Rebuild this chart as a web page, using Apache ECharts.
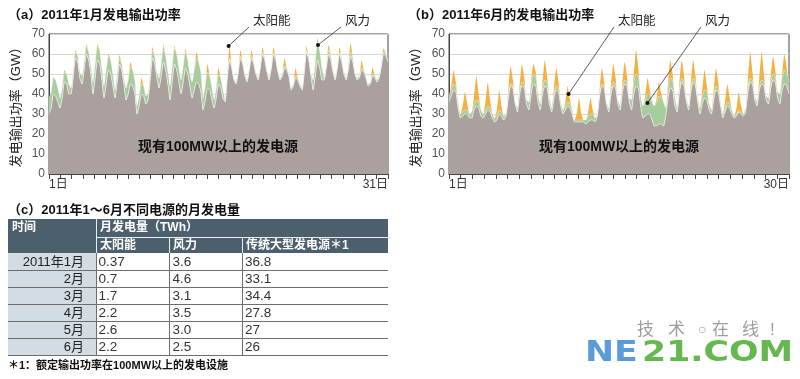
<!DOCTYPE html>
<html><head><meta charset="utf-8">
<script src="https://cdn.jsdelivr.net/npm/echarts@6/dist/echarts.min.js"></script>
<style>html,body{margin:0;padding:0;background:#fff}#c{width:800px;height:379px}</style>
</head><body><div id="c"></div>
<script>
// ---------- DATA ----------
// sample hours within each day (hour of day)
const sampleHours = [2, 7, 12, 17, 22];

// January 2011, GW, 5 samples per day (days 1..31)
const janConv = [
 30,33,40,39,36, 33,38,46,45,40, 40,48,58,56,48, 45,52,60,57,50, 40,48,57,55,47,
 38,45,52,50,44, 38,46,55,52,45, 37,40,45,44,40, 30,34,40,39,35, 37,47,58,55,48,
 43,49,56,52,45, 37,46,55,52,46, 40,46,53,50,44, 38,42,46,45,41, 32,37,43,42,37,
 33,38,45,43,38, 36,48,57,53,47, 45,51,58,55,49, 46,52,58,55,50, 47,53,60,57,51,
 47,53,60,57,51, 47,49,53,52,49, 42,44,48,47,44, 42,51,61,57,49, 42,49,57,53,47,
 47,53,60,57,51, 47,53,60,56,50, 47,52,59,56,50, 47,48,52,51,48, 44,45,49,48,46,
 48,54,60,59,56
];
const janWind = [
 8,8,8,8,7, 5,5,5,5,5, 3,3,3,3,3, 4,4,4,4,4, 6,7,7,7,6,
 6,7,7,7,6, 4,4,3,3,3, 6,7,9,8,7, 4,5,5,5,4, 3,4,4,4,3,
 5,6,8,7,6, 7,8,8,8,7, 7,8,8,7,6, 8,10,12,11,10, 6,7,8,7,6,
 4,5,5,5,4, 1,1,1,1,1, 1,1,1,1,1, 1,1,1,1,1, 1,1,1,1,1,
 1,1,1,1,1, 1,1,1,1,1, 1,1,1,1,1, 1,1,1,1,1, 5,7,9,8,6,
 1,2,2,2,1, 1,1,1,1,1, 1,2,2,2,1, 1,1,1,1,1, 1,1,1,1,1,
 1,1,1,1,1
];
const janSolar = [
 0,0,0.5,0,0, 0,0,1,0,0, 0,0,1,0,0, 0,0,1,0,0, 0,0,1,0,0,
 0,0,1,0,0, 0,0,1.5,0,0, 0,0,2,0,0, 0,0,3,0,0, 0,0,1.5,0,0,
 0,0,1,0,0, 0,0,1,0,0, 0,0,1.5,0,0, 0,0,3,0,0, 0,0,4,0,0,
 0,0,3,0,0, 0,0,6,0,0, 0,0,3,0,0, 0,0,3,0,0, 0,0,2.5,0,0,
 0,0,2.5,0,0, 0,0,4,0,0, 0,0,4,0,0, 0,0,2,0,0, 0,0,2,0,0,
 0,0,2.5,0,0, 0,0,2.5,0,0, 0,0,4.5,0,0, 0,0,4,0,0, 0,0,3.5,0,0,
 0,0,2,0,0
];

// June 2011, GW, 5 samples per day (days 1..30)
const junConv = [
 36,39,42,41,33, 28,29,30,30,28, 28,32,34,33,29, 28,30,32,31,28, 26,27,30,29,27,
 29,38,44,43,35, 31,40,44,43,35, 32,40,45,44,36, 32,40,44,43,35, 31,38,42,41,34,
 30,32,34,33,30, 26,26,26,26,26, 25,26,27,27,26, 29,39,44,43,35, 31,40,44,43,35,
 32,41,45,44,36, 32,40,44,43,34, 28,29,30,30,27, 24,24,25,25,24, 29,38,43,42,34,
 31,41,46,44,36, 32,41,46,44,36, 30,35,38,37,32, 30,37,42,41,34, 28,31,34,33,30,
 28,29,31,30,29, 31,41,46,45,37, 34,42,45,44,37, 35,43,47,46,38, 35,42,45,44,40
];
const junWind = [
 3,3,3,3,3, 2,2,2,2,2, 3,3,3,3,3, 2,2,2,2,2, 2,2,2,2,2,
 1,1,1,1,1, 2,2,2,2,2, 4,5,5,5,4, 3,3,3,3,3, 2,2,2,2,2,
 2,2,2,2,2, 1,1,1,1,1, 2,3,3,3,2, 1,1,1,1,1, 2,2,2,2,2,
 2,2,2,2,2, 5,6,6,6,5, 6,8,10,10,9, 10,12,14,13,12, 4,5,5,5,4,
 2,2,2,2,2, 2,2,2,2,2, 3,4,4,4,3, 2,2,2,2,2, 2,2,2,2,2,
 1,1,1,1,1, 2,2,2,2,2, 2,2,2,2,2, 3,3,3,3,3, 5,6,7,7,6
];
const junSolar = [
 0,2,7,2,0, 0,3,9,3,0, 0,4,12,4,0, 0,4,12,4,0, 0,3,10,3,0,
 0,3,9,3,0, 0,3,9,3,0, 0,2,5,2,0, 0,3,10,3,0, 0,3,9,3,0,
 0,2,8,2,0, 0,3,11,3,0, 0,2,8,2,0, 0,2,8,2,0, 0,3,9,3,0,
 0,3,9,3,0, 0,4,12,4,0, 0,2,8,2,0, 0,2,7,2,0, 0,3,9,3,0,
 0,3,9,3,0, 0,3,9,3,0, 0,3,10,3,0, 0,3,9,3,0, 0,3,9,3,0,
 0,3,9,3,0, 0,4,13,4,0, 0,4,14,4,0, 0,3,9,3,0, 0,2,8,2,0
];

const yTicks = [0, 10, 20, 30, 40, 50, 60, 70];

// Table (c): monthly generation, TWh
const tableMonths = ['2011年1月', '2月', '3月', '4月', '5月', '6月'];
const tableSolar = ['0.37', '0.7', '1.7', '2.2', '2.6', '2.2'];
const tableWind = ['3.6', '4.6', '3.1', '3.5', '3.0', '2.5'];
const tableConv = ['36.8', '33.1', '34.4', '27.8', '27', '26'];

// ---------- CHART ----------
const FF = "'Liberation Sans', 'Noto Sans CJK SC', sans-serif";
const C_CONV = '#aaa19f', C_WIND = '#a8cd9d', C_SOLAR = '#f5b13f';
const PER = sampleHours.length;

function hourCats(vals) {
  return vals.map((v, i) => String(Math.floor(i / PER) * 24 + sampleHours[i % PER]));
}

const chart = echarts.init(document.getElementById('c'), null, {renderer: 'canvas'});

function tickAxis(grid, maxTick, lastLabel) {
  return {
    gridIndex: grid, type: 'value', min: 0, max: maxTick, interval: 1, position: 'bottom',
    axisLine: {show: true, lineStyle: {color: '#444', width: 1}},
    axisTick: {show: true, length: 5, lineStyle: {color: '#444'}},
    splitLine: {show: false},
    axisLabel: {
      show: true, margin: 5, fontSize: 12, color: '#333', fontFamily: FF,
      showMinLabel: true, showMaxLabel: true, alignMinLabel: 'left', alignMaxLabel: 'right',
      formatter: v => v === 0 ? '1日' : (v === maxTick ? lastLabel : '')
    }
  };
}
function dataAxis(grid, vals) {
  return {gridIndex: grid, type: 'category', boundaryGap: false, data: hourCats(vals), show: false};
}
function yAxis(grid) {
  return {
    gridIndex: grid, type: 'value', min: yTicks[0], max: yTicks[yTicks.length - 1], interval: 10,
    name: '发电输出功率（GW）', nameLocation: 'middle', nameGap: 26, nameRotate: 90,
    nameTextStyle: {fontSize: 13, color: '#222', fontFamily: FF},
    axisLine: {show: true, lineStyle: {color: '#444'}},
    axisTick: {show: false},
    axisLabel: {fontSize: 12, color: '#555', margin: 4, fontFamily: FF},
    splitLine: {show: true, lineStyle: {color: '#d6d6d6', width: 1}}
  };
}
function areaSeries(name, vals, color, xi, yi, stack, line) {
  return {
    name, type: 'line', data: vals, xAxisIndex: xi, yAxisIndex: yi, stack,
    showSymbol: false, symbol: 'none', smooth: 0.15,
    lineStyle: line || {width: 0},
    areaStyle: {color, opacity: 1}, itemStyle: {color}, z: 2
  };
}

chart.setOption({
  animation: false,
  backgroundColor: '#fff',
  grid: [
    {left: 49, top: 34, width: 339, height: 140, show: true, borderColor: '#444', borderWidth: 1, backgroundColor: '#fff'},
    {left: 449, top: 34, width: 340, height: 140, show: true, borderColor: '#444', borderWidth: 1, backgroundColor: '#fff'}
  ],
  xAxis: [tickAxis(0, 30, '31日'), dataAxis(0, janConv), tickAxis(1, 29, '30日'), dataAxis(1, junConv)],
  yAxis: [yAxis(0), yAxis(1)],
  series: [
    areaSeries('传统', janConv, C_CONV, 1, 0, 'a', {width: 0.8, color: 'rgba(255,255,255,0.7)'}),
    areaSeries('风力', janWind, C_WIND, 1, 0, 'a', {width: 0.6, color: 'rgba(255,255,255,0.5)'}),
    areaSeries('太阳能', janSolar, C_SOLAR, 1, 0, 'a'),
    areaSeries('传统', junConv, C_CONV, 3, 1, 'b', {width: 0.8, color: 'rgba(255,255,255,0.7)'}),
    areaSeries('风力', junWind, C_WIND, 3, 1, 'b', {width: 0.6, color: 'rgba(255,255,255,0.5)'}),
    areaSeries('太阳能', junSolar, C_SOLAR, 3, 1, 'b')
  ]
});

// ---------- GRAPHICS ----------
const g = [];
function txt(x, y, s, o) {
  g.push({type: 'text', x, y, silent: true, z: 20, style: Object.assign({
    text: s, fontSize: 13, fontFamily: FF, fill: '#222', textVerticalAlign: 'middle', textAlign: 'left'
  }, o || {})});
}
function ln(x1, y1, x2, y2, stroke, w) {
  g.push({type: 'line', silent: true, z: 15, shape: {x1, y1, x2, y2}, style: {stroke, lineWidth: w || 1}});
}

// titles
txt(8, 15, '（a）2011年1月发电输出功率', {fontWeight: 'bold', fill: '#111'});
txt(408, 15, '（b）2011年6月的发电输出功率', {fontWeight: 'bold', fill: '#111'});
txt(218, 147, '现有100MW以上的发电源', {fontWeight: 'bold', fontSize: 14, fill: '#111', textAlign: 'center'});
txt(619, 147, '现有100MW以上的发电源', {fontWeight: 'bold', fontSize: 14, fill: '#111', textAlign: 'center'});

// annotations: point = [day index (0-based), sample position within day, value]
const ann = [
  {xa: 1, ya: 0, pt: [16, 1.6, 64], label: '太阳能', lx: 253, from: [249, 27]},
  {xa: 1, ya: 0, pt: [24, 2.2, 64.5], label: '风力', lx: 345, from: [341, 27]},
  {xa: 3, ya: 1, pt: [10, 2.4, 40], label: '太阳能', lx: 618, from: [614, 27]},
  {xa: 3, ya: 1, pt: [17, 2.0, 35.5], label: '风力', lx: 705, from: [701, 27]}
];
ann.forEach(a => {
  const idx = a.pt[0] * PER + a.pt[1];
  const i0 = Math.floor(idx), f = idx - i0;
  const p0 = chart.convertToPixel({xAxisIndex: a.xa, yAxisIndex: a.ya}, [i0, a.pt[2]]);
  const p1 = chart.convertToPixel({xAxisIndex: a.xa, yAxisIndex: a.ya}, [i0 + 1, a.pt[2]]);
  const p = [p0[0] + (p1[0] - p0[0]) * f, p0[1]];
  ln(a.from[0], a.from[1], p[0], p[1], '#333', 0.8);
  g.push({type: 'circle', silent: true, z: 16, shape: {cx: p[0], cy: p[1], r: 2}, style: {fill: '#111'}});
  txt(a.lx, 22, a.label, {fontSize: 12.5, fill: '#222'});
});

// table (c)
txt(8, 210, '（c）2011年1～6月不同电源的月发电量', {fontWeight: 'bold', fill: '#111'});
const cols = [8, 96, 169, 242, 388];
const hTop = 219, hMid = 237, bTop = 253, rowH = 17;
const nRows = tableMonths.length;
g.push({type: 'rect', silent: true, z: 10, shape: {x: cols[0], y: hTop, width: cols[4] - cols[0], height: bTop - hTop}, style: {fill: '#4b5f6c'}});
g.push({type: 'rect', silent: true, z: 10, shape: {x: cols[0], y: bTop, width: cols[1] - cols[0], height: nRows * rowH}, style: {fill: '#d3dce3'}});
ln(cols[1] + 0.5, hTop, cols[1] + 0.5, bTop, '#e8eef2');
ln(cols[1], hMid + 0.5, cols[4], hMid + 0.5, '#e8eef2');
ln(cols[2] + 0.5, hMid, cols[2] + 0.5, bTop, '#e8eef2');
ln(cols[3] + 0.5, hMid, cols[3] + 0.5, bTop, '#e8eef2');
for (let k = 1; k <= nRows; k++) ln(cols[0], bTop + k * rowH + 0.5, cols[4], bTop + k * rowH + 0.5, '#6e6e6e');
[1, 2, 3].forEach(c => ln(cols[c] + 0.5, bTop, cols[c] + 0.5, bTop + nRows * rowH, '#6e6e6e'));
const hs = {fontWeight: 'bold', fontSize: 12, fill: '#fff'};
txt(12, 228, '时间', hs);
txt(cols[1] + 4, 228, '月发电量（TWh）', hs);
txt(cols[1] + 4, 245.5, '太阳能', hs);
txt(cols[2] + 4, 245.5, '风力', hs);
txt(cols[3] + 4, 245.5, '传统大型发电源＊1', hs);
for (let r = 0; r < nRows; r++) {
  const cy = bTop + r * rowH + rowH / 2 + 1;
  txt(cols[1] - 12, cy, tableMonths[r], {textAlign: 'right', fill: '#222'});
  txt(cols[1] + 2.5, cy, tableSolar[r], {fill: '#333', fontSize: 13.5});
  txt(cols[2] + 3.5, cy, tableWind[r], {fill: '#333', fontSize: 13.5});
  txt(cols[3] + 3, cy, tableConv[r], {fill: '#333', fontSize: 13.5});
}
txt(8, 366, '＊1：额定输出功率在100MW以上的发电设施', {fontWeight: 'bold', fontSize: 11, fill: '#111'});

// watermark
g.push({type: 'text', silent: true, z: 5, x: 585, y: 354, scaleX: 1.24,
  style: {text: 'NE', fontSize: 28, fontWeight: 'bold', fontFamily: "'DejaVu Sans', sans-serif", fill: '#5b9bd8', textVerticalAlign: 'middle'}});
g.push({type: 'text', silent: true, z: 5, x: 642, y: 354, scaleX: 1.24,
  style: {text: '21.COM', fontSize: 28, fontWeight: 'bold', fontFamily: "'DejaVu Sans', sans-serif", fill: '#64b84f', textVerticalAlign: 'middle'}});
['技', '术', '○', '在', '线', '!'].forEach((ch, i) => {
  const xs = [637, 668, 698, 712, 742, 770];
  g.push({type: 'text', silent: true, z: 6, x: xs[i], y: 330,
    style: {text: ch, fontSize: ch === '○' ? 14 : 17, fontFamily: FF, fill: 'rgba(140,140,140,0.85)', textVerticalAlign: 'middle'}});
});

chart.setOption({graphic: g});
</script>
</body></html>
